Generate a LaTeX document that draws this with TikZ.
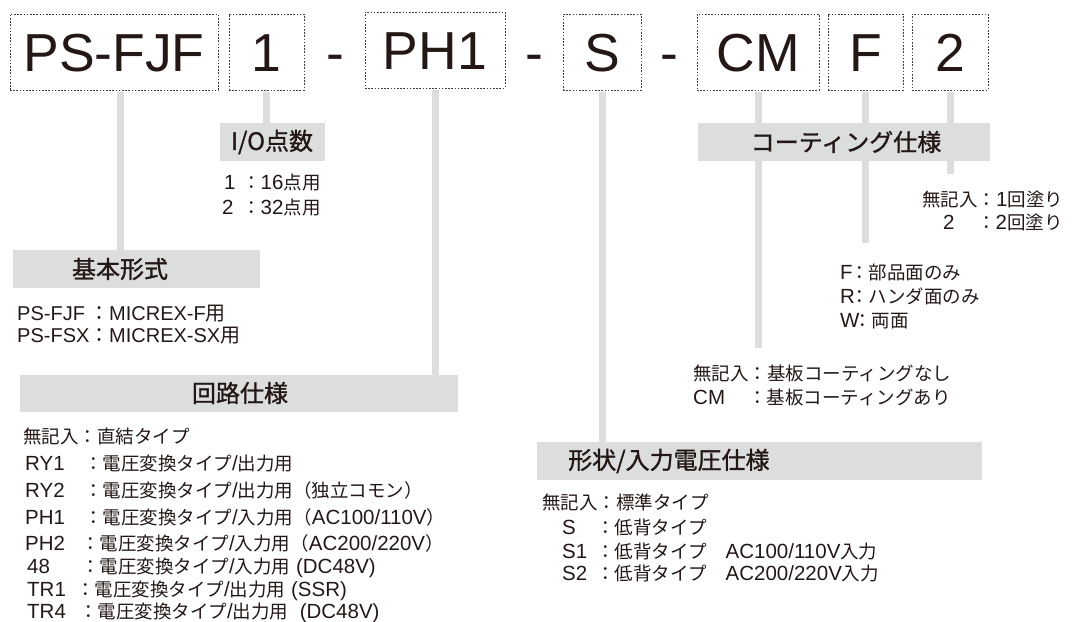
\documentclass[tikz,border=0pt]{standalone}
\usepackage{fontspec}
\setmainfont{Liberation Sans}
\newfontfamily\jp{Noto Sans CJK JP}
\newfontfamily\jph{Noto Sans CJK JP}[FakeBold=1.2]
\newfontfamily\lat{Liberation Sans}
\usepackage{xcolor}
\usetikzlibrary{positioning}

\definecolor{ink}{RGB}{35,24,21}
\definecolor{bar}{RGB}{220,221,221}
\newcommand{\kw}[2]{\makebox[#1pt][l]{#2}}
\newcommand{\en}[1]{{\lat\fontsize{20.5}{24}\selectfont #1}}

\begin{document}
\begin{tikzpicture}[x=1pt, y=-1pt,
    code/.style={font=\fontsize{53.5}{60}\selectfont, text=ink, draw=black!75, line width=1pt,
        dash pattern=on 1.6pt off 1.6pt, inner xsep=0pt, inner ysep=18.5pt,
        text height=39pt, text depth=0pt, minimum height=76pt},
    sep/.style={font=\fontsize{53.5}{60}\selectfont, text=ink, inner sep=0pt, text height=39pt, text depth=0pt},
    hdr/.style={fill=bar, inner sep=0pt, minimum height=38pt},
    htext/.style={font=\jph\fontsize{24}{28}\selectfont, text=ink, inner sep=0pt},
    item/.style={font=\jp\fontsize{18.5}{22}\selectfont, text=ink, anchor=west, inner sep=0pt,
        text height=14pt, text depth=0pt},
    link/.style={draw=bar, line width=7pt, shorten <=1pt}]

    \useasboundingbox (0,0) rectangle (1075,621);

    % Code boxes
    \node[code, minimum width=208pt] (pfx) at (114,52) {PS-FJF};
    \node[code, minimum width=75pt] (io) at (266.5,52) {1};
    \node[sep] (d1) at (335,52) {-};
    \node[code, minimum width=140pt] (ckt) at (435,50) {PH1};
    \node[sep] (d2) at (534,52) {-};
    \node[code, minimum width=78pt] (shp) at (602,52) {S};
    \node[sep] (d3) at (669,52) {-};
    \node[code, minimum width=122pt] (cm) at (758,52) {CM};
    \node[code, minimum width=75pt] (cf) at (865.5,52) {F};
    \node[code, minimum width=76pt] (cn) at (950,52) {2};

    % Headers
    \node[hdr, minimum width=105pt] (hio) at (272.5,142) {};
    \node[hdr, minimum width=292pt] (hcoat) at (844,142) {};
    \node[hdr, minimum width=247pt] (hbase) at (136.5,269) {};
    \node[hdr, minimum width=438pt, minimum height=37pt] (hckt) at (239,393.5) {};
    \node[hdr, minimum width=445pt] (hshp) at (759.5,461) {};

    % I/O
    \node[item] (lio1) at (224,182) {\kw{18}{\en{1}}：\en{16}点用};
    \node[item] (lio2) at (222,207) {\kw{20}{\en{2}}：\en{32}点用};

    % Base
    \node[item, font=\lat\fontsize{20}{24}\selectfont] (lb1) at (17,313) {\kw{72}{PS-FJF}{\jp ：}MICREX-F{\jp 用}};
    \node[item, font=\lat\fontsize{20}{24}\selectfont] (lb2) at (17,335) {\kw{72}{PS-FSX}{\jp ：}MICREX-SX{\jp 用}};

    % Circuit
    \node[item] (lc1) at (23,436) {無記入：直結タイプ};
    \node[item] (lc2) at (25,463) {\kw{59}{\en{RY1}}：電圧変換タイプ\en{/}出力用};
    \node[item] (lc3) at (25,490) {\kw{59}{\en{RY2}}：電圧変換タイプ\en{/}出力用（独立コモン）};
    \node[item] (lc4) at (25,517) {\kw{59}{\en{PH1}}：電圧変換タイプ\en{/}入力用（\en{AC100/110V}）};
    \node[item] (lc5) at (25,543) {\kw{56}{\en{PH2}}：電圧変換タイプ\en{/}入力用（\en{AC200/220V}）};
    \node[item] (lc6) at (27,566) {\kw{54}{\en{48}}：電圧変換タイプ\en{/}入力用\en{ (DC48V)}};
    \node[item] (lc7) at (27,589) {\kw{49}{\en{TR1}}：電圧変換タイプ\en{/}出力用\en{ (SSR)}};
    \node[item] (lc8) at (27,611) {\kw{52}{\en{TR4}}：電圧変換タイプ\en{/}出力用\en{\ \ (DC48V)}};

    % Shape
    \node[item] (ls1) at (542,502) {無記入：標準タイプ};
    \node[item] (ls2) at (562,527) {\kw{34}{\en{S}}：低背タイプ};
    \node[item] (ls3) at (562,551) {\kw{34}{\en{S1}}：低背タイプ\quad\en{AC100/110V}入力};
    \node[item] (ls4) at (562,573) {\kw{34}{\en{S2}}：低背タイプ\quad\en{AC200/220V}入力};

    % Coating
    \node[item] (lcm1) at (693,373) {無記入：基板コーティングなし};
    \node[item] (lcm2) at (693,397) {\kw{55}{\en{CM}}：基板コーティングあり};
    \node[item] (lcf1) at (840,272) {\kw{10}{\en{F}}：部品面のみ};
    \node[item] (lcf2) at (840,296) {\kw{10}{\en{R}}：ハンダ面のみ};
    \node[item] (lcf3) at (840,320) {\kw{13}{\en{W}}：両面};
    \node[item] (lcn1) at (922,199) {無記入：\en{1}回塗り};
    \node[item] (lcn2) at (943,222) {\kw{34}{\en{2}}：\en{2}回塗り};

    % Links
    \node[htext] (tbase) at (120,269) {基本形式};
    \draw[link] (pfx.south -| tbase) -- (hbase.north -| tbase);
    \draw[link] (io.south) -- (io.south |- hio.north);
    \draw[link] (ckt.south) -- (ckt.south |- hckt.north);
    \draw[link] (shp.south) -- (shp.south |- hshp.north);
    \draw[link, shorten >=18pt] (cm.south) -- (cm.south |- lcm1.north);
    \draw[link, shorten >=22pt] (cf.south) -- (cf.south |- lcf1.north);
    \draw[link, shorten >=18pt] (cn.south) -- (cn.south |- lcn1.north);

    % Header texts
    \node[htext] (tio) at (272,142) {I/O点数};
    \node[htext] (tcoat) at (846,142) {コーティング仕様};
    \node[htext] (tckt) at (240,393) {回路仕様};
    \node[htext, anchor=west] (tshp) at (568,461) {形状/入力電圧仕様};

\end{tikzpicture}
\end{document}
